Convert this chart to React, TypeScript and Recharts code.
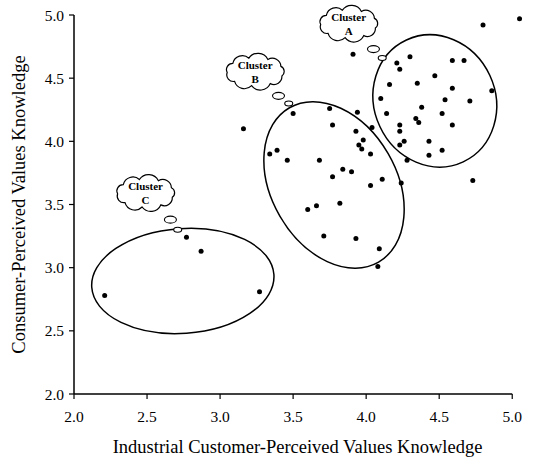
import React from 'react';
import { ScatterChart, Scatter, XAxis, YAxis, ReferenceLine, ReferenceArea, ReferenceDot } from 'recharts';

// Industrial (x) vs consumer (y) perceived values knowledge
const clusterAPoints = [
    [4.30, 4.67], [4.23, 4.57], [4.59, 4.64], [4.67, 4.64], [4.47, 4.52], [4.16, 4.45],
    [4.35, 4.46], [4.59, 4.42], [4.86, 4.40], [4.10, 4.34], [4.54, 4.33], [4.71, 4.32],
    [4.38, 4.27], [4.14, 4.22], [4.52, 4.22], [4.34, 4.18], [4.36, 4.15], [4.23, 4.13],
    [4.59, 4.13], [4.23, 4.08], [4.26, 4.00], [4.23, 3.97], [4.43, 4.00], [4.52, 3.93],
    [4.43, 3.89], [4.28, 3.85],
];
const clusterBPoints = [
    [3.50, 4.22], [3.75, 4.26], [3.77, 4.13], [3.94, 4.23], [4.04, 4.11], [3.93, 4.08],
    [3.98, 4.01], [3.95, 3.97], [3.97, 3.94], [4.03, 3.90], [3.84, 3.78], [3.90, 3.76],
    [3.77, 3.72], [4.11, 3.70], [4.03, 3.65], [4.24, 3.67], [3.39, 3.93], [3.34, 3.90],
    [3.46, 3.85], [3.68, 3.85], [3.82, 3.51], [3.66, 3.49], [3.60, 3.46], [3.71, 3.25],
    [3.93, 3.23], [4.09, 3.15], [4.08, 3.01],
];
const clusterCPoints = [[2.77, 3.24], [2.87, 3.13], [2.21, 2.78], [3.27, 2.81]];
const otherPoints = [[4.80, 4.92], [5.05, 4.97], [3.91, 4.69], [4.21, 4.62], [4.73, 3.69], [3.16, 4.10]];

const xTicks = [2.0, 2.5, 3.0, 3.5, 4.0, 4.5, 5.0];
const yTicks = [2.0, 2.5, 3.0, 3.5, 4.0, 4.5, 5.0];

// cluster outlines: box of the unrotated ellipse (data units) + screen rotation
const clusterOutlines = [
    { name: 'A', x1: 4.01, x2: 4.93, y1: 3.84, y2: 4.80, rotate: 65 },
    { name: 'B', x1: 3.17, x2: 4.39, y1: 3.16, y2: 4.15, rotate: 60 },
    { name: 'C', x1: 2.12, x2: 3.37, y1: 2.48, y2: 3.31, rotate: -4 },
];

// thought-bubble labels and their trailing puffs
const bubbleLabels = [
    { name: 'A', x: 3.88, y: 4.93 },
    { name: 'B', x: 3.24, y: 4.55 },
    { name: 'C', x: 2.49, y: 3.59 },
];
const bubblePuffs = [
    { x: 4.05, y: 4.73, size: 'big' }, { x: 4.11, y: 4.66, size: 'small' },
    { x: 3.40, y: 4.36, size: 'big' }, { x: 3.47, y: 4.30, size: 'small' },
    { x: 2.66, y: 3.38, size: 'big' }, { x: 2.71, y: 3.30, size: 'small' },
];

const toData = (pts: number[][]) => pts.map(([x, y]) => ({ x, y }));

const serif = '"Liberation Serif", "DejaVu Serif", serif';

const Dot = (props: any) => <circle cx={props.cx} cy={props.cy} r={2.5} fill="#000" />;

const OutlineShape = (rotate: number) => (props: any) => {
    const { x, y, width, height } = props;
    const cx = x + width / 2;
    const cy = y + height / 2;
    return (
        <ellipse cx={cx} cy={cy} rx={Math.abs(width) / 2} ry={Math.abs(height) / 2}
            fill="none" stroke="#000" strokeWidth={1.5}
            transform={`rotate(${rotate} ${cx} ${cy})`} />
    );
};

// scalloped cloud outline around an ellipse
const cloudPath = (cx: number, cy: number, rx: number, ry: number, bumps: number) => {
    const pts = [];
    for (let i = 0; i < bumps; i++) {
        const a = (i / bumps) * Math.PI * 2 + 0.3;
        pts.push([cx + rx * Math.cos(a), cy + ry * Math.sin(a)]);
    }
    let d = `M${pts[0][0].toFixed(1)},${pts[0][1].toFixed(1)}`;
    for (let i = 1; i <= bumps; i++) {
        const p = pts[i % bumps];
        const q = pts[i - 1];
        const r = Math.hypot(p[0] - q[0], p[1] - q[1]) * 0.58;
        d += ` A${r.toFixed(1)},${r.toFixed(1)} 0 0 1 ${p[0].toFixed(1)},${p[1].toFixed(1)}`;
    }
    return d + 'Z';
};

const BubbleShape = (name: string) => (props: any) => {
    const { cx, cy } = props;
    return (
        <g>
            <path d={cloudPath(cx, cy, 28, 14, 9)} fill="#fff" stroke="#000" strokeWidth={1.2} />
            <text x={cx} y={cy - 3} textAnchor="middle" fontFamily={serif} fontWeight="bold" fontSize={11} fill="#000">Cluster</text>
            <text x={cx} y={cy + 11} textAnchor="middle" fontFamily={serif} fontWeight="bold" fontSize={11} fill="#000">{name}</text>
        </g>
    );
};

const PuffShape = (size: string) => (props: any) => (
    <ellipse cx={props.cx} cy={props.cy} rx={size === 'big' ? 6 : 4} ry={size === 'big' ? 3.5 : 2.5}
        fill="#fff" stroke="#000" strokeWidth={1.1} />
);

const tickStyle = { fontFamily: serif, fontSize: 15.5, fill: '#000' };
const titleStyle = { fontFamily: serif, fontSize: 18.5, fill: '#000' };

export default function App() {
    return (
        <div style={{ position: 'absolute', left: 0, top: 0, background: '#fff' }}>
            <ScatterChart width={535} height={460} margin={{ top: 15, right: 14, bottom: 4, left: 8 }}>
                <XAxis type="number" dataKey="x" domain={[2, 5.06]} ticks={xTicks}
                    tickFormatter={(v: number) => v.toFixed(1)} axisLine={false}
                    tickLine={{ stroke: '#000', strokeWidth: 1.2 }} tickSize={5} tickMargin={12}
                    tick={tickStyle} height={62}
                    label={{ value: 'Industrial Customer-Perceived Values Knowledge', position: 'insideBottom', offset: 3, style: titleStyle }} />
                <YAxis type="number" dataKey="y" domain={[2, 5]} ticks={yTicks}
                    tickFormatter={(v: number) => v.toFixed(1)}
                    axisLine={{ stroke: '#000', strokeWidth: 1.5 }}
                    tickLine={{ stroke: '#000', strokeWidth: 1.2 }} tickSize={5} tickMargin={5}
                    tick={tickStyle} width={66}
                    label={{ value: 'Consumer-Perceived Values Knowledge', angle: -90, position: 'insideLeft', offset: 10, style: { ...titleStyle, textAnchor: 'middle' } }} />
                <ReferenceLine segment={[{ x: 2, y: 2 }, { x: 5, y: 2 }]} stroke="#000" strokeWidth={1.5} />
                {clusterOutlines.map((o) => (
                    <ReferenceArea key={o.name} x1={o.x1} x2={o.x2} y1={o.y1} y2={o.y2} shape={OutlineShape(o.rotate)} />
                ))}
                <Scatter data={toData(clusterAPoints)} shape={Dot} isAnimationActive={false} />
                <Scatter data={toData(clusterBPoints)} shape={Dot} isAnimationActive={false} />
                <Scatter data={toData(clusterCPoints)} shape={Dot} isAnimationActive={false} />
                <Scatter data={toData(otherPoints)} shape={Dot} isAnimationActive={false} />
                {bubblePuffs.map((p, i) => (
                    <ReferenceDot key={'p' + i} x={p.x} y={p.y} shape={PuffShape(p.size)} />
                ))}
                {bubbleLabels.map((b) => (
                    <ReferenceDot key={b.name} x={b.x} y={b.y} shape={BubbleShape(b.name)} />
                ))}
            </ScatterChart>
        </div>
    );
}
